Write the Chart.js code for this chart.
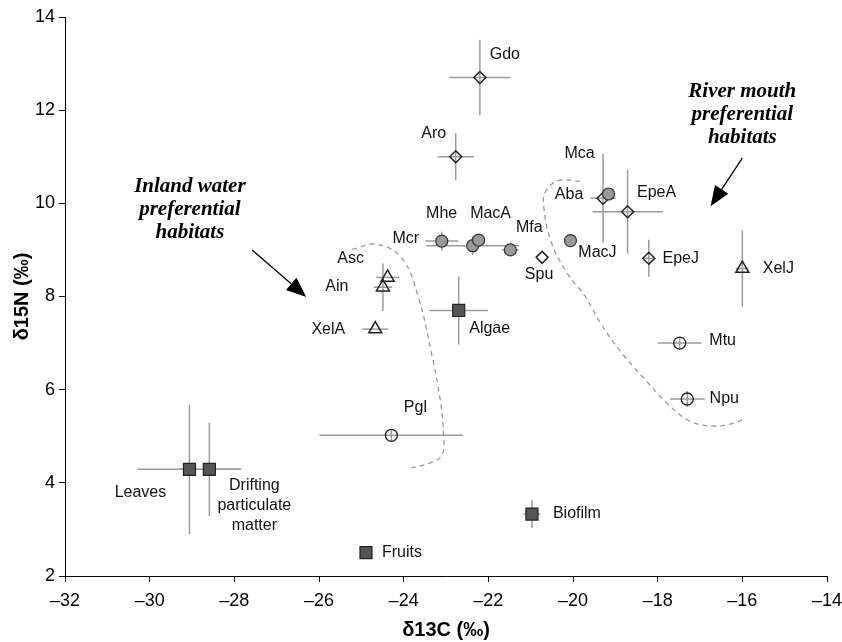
<!DOCTYPE html>
<html><head><meta charset="utf-8">
<script src="https://cdn.jsdelivr.net/npm/chart.js@4.4.1/dist/chart.umd.min.js"></script>
<style>html,body{margin:0;padding:0;background:#fff}#wrap{width:842px;height:642px;position:relative}</style>
</head><body><div id="wrap"><canvas id="c"></canvas></div>
<script>
// ---------- data ----------
const xTicks = [-32, -30, -28, -26, -24, -22, -20, -18, -16, -14];
const yTicks = [2, 4, 6, 8, 10, 12, 14];

// food sources (dark squares)
const sourceNames = ['Leaves', 'Drifting particulate matter', 'Algae', 'Biofilm', 'Fruits'];
const sourceC   = [-29.06, -28.59, -22.70, -20.97, -24.89];
const sourceN   = [4.29, 4.29, 7.70, 3.33, 2.50];
const sourceCsd = [1.23, 0.73, 0.69, 0.20, 0];
const sourceNsd = [1.39, 1.00, 0.73, 0.30, 0];

// grey circles
const greyNames = ['Mcr', 'Mhe', 'MacA', 'Mfa', 'MacJ', 'Mca'];
const greyC   = [-23.10, -22.37, -22.23, -21.48, -20.06, -19.16];
const greyN   = [9.19, 9.09, 9.21, 9.00, 9.20, 10.20];
const greyCsd = [0.39, 1.10, 0.15, 0.20, 0, 0];
const greyNsd = [0.20, 0.20, 0, 0, 0, 0];

// diamonds
const diamondNames = ['Gdo', 'Aro', 'Aba', 'EpeA', 'EpeJ', 'Spu'];
const diamondC   = [-22.20, -22.77, -19.29, -18.71, -18.21, -20.73];
const diamondN   = [12.70, 11.00, 10.11, 9.82, 8.82, 8.84];
const diamondCsd = [0.72, 0.43, 0.30, 0.83, 0.10, 0];
const diamondNsd = [0.81, 0.51, 0.95, 0.90, 0.40, 0];

// triangles
const triNames = ['Asc', 'Ain', 'XelA', 'XelJ'];
const triC   = [-24.38, -24.49, -24.67, -16.00];
const triN   = [8.41, 8.20, 7.30, 8.60];
const triCsd = [0.27, 0.22, 0.31, 0.15];
const triNsd = [0, 0.51, 0, 0.82];

// open circles
const openNames = ['Pgl', 'Mtu', 'Npu'];
const openC   = [-24.29, -17.48, -17.30];
const openN   = [5.02, 7.00, 5.80];
const openCsd = [1.70, 0.51, 0.41];
const openNsd = [0.12, 0.12, 0.17];

// dashed habitat outlines
const inlandCurveC = [-25.22, -24.63, -24.04, -23.65, -23.37, -23.13, -23.06, -23.09, -23.37, -23.92];
const inlandCurveN = [9.01, 9.12, 8.82, 7.97, 6.90, 5.74, 5.03, 4.60, 4.43, 4.30];
const riverCurveC = [-19.83, -20.34, -20.65, -20.69, -20.53, -20.14, -19.71, -19.35, -18.88, -18.33, -17.78, -17.23, -16.67, -16.20, -15.92];
const riverCurveN = [10.47, 10.49, 10.25, 9.93, 9.21, 8.50, 8.00, 7.43, 6.82, 6.25, 5.71, 5.32, 5.22, 5.28, 5.39];

// annotation texts
const inlandText = ['Inland water', 'preferential', 'habitats'];
const riverText = ['River mouth', 'preferential', 'habitats'];

// ---------- layout (pixel offsets / annotation anchors) ----------
const labelOffsets = {
  'Leaves': [-49, 23], 'Drifting particulate matter': [45, 16], 'Algae': [31, 18], 'Biofilm': [45, 0], 'Fruits': [36, 0],
  'Mcr': [-36, -2], 'Mhe': [-31, -32], 'MacA': [12, -27], 'Mfa': [19, -22], 'MacJ': [27, 12], 'Mca': [-29, -40],
  'Gdo': [25, -23], 'Aro': [-22, -23], 'Aba': [-34, -4], 'EpeA': [29, -19], 'EpeJ': [32, 0], 'Spu': [-3, 17],
  'Asc': [-37, -19], 'Ain': [-46, -1], 'XelA': [-47, 0], 'XelJ': [36, 0],
  'Pgl': [24, -28], 'Mtu': [43, -2], 'Npu': [37, 0]
};
const multiLine = {'Drifting particulate matter': ['Drifting', 'particulate', 'matter']};
const textAnchors = {inland: {c: -29.05, n: [10.35, 9.86, 9.37]}, river: {c: -16.0, n: [12.39, 11.9, 11.41]}};
const arrowAnchors = [
  {from: [-27.58, 9.0], to: [-26.30, 7.99]},
  {from: [-16.0, 10.97], to: [-16.75, 9.94]}
];

function pts(cs, ns) { return cs.map((c, i) => ({x: c, y: ns[i]})); }

const groups = [
  {names: sourceNames, c: sourceC, n: sourceN, cs: sourceCsd, ns: sourceNsd},
  {names: greyNames, c: greyC, n: greyN, cs: greyCsd, ns: greyNsd},
  {names: diamondNames, c: diamondC, n: diamondN, cs: diamondCsd, ns: diamondNsd},
  {names: triNames, c: triC, n: triN, cs: triCsd, ns: triNsd},
  {names: openNames, c: openC, n: openN, cs: openCsd, ns: openNsd}
];

const errorBars = {
  id: 'errorBars',
  beforeDatasetsDraw(chart) {
    const {ctx, scales: {x, y}} = chart;
    ctx.save();
    ctx.strokeStyle = '#9a9a9a';
    ctx.lineWidth = 1.5;
    groups.forEach(g => {
      g.c.forEach((c, i) => {
        const px = x.getPixelForValue(c), py = y.getPixelForValue(g.n[i]);
        if (g.cs[i] > 0) {
          ctx.beginPath();
          ctx.moveTo(x.getPixelForValue(c - g.cs[i]), py);
          ctx.lineTo(x.getPixelForValue(c + g.cs[i]), py);
          ctx.stroke();
        }
        if (g.ns[i] > 0) {
          ctx.beginPath();
          ctx.moveTo(px, y.getPixelForValue(g.n[i] - g.ns[i]));
          ctx.lineTo(px, y.getPixelForValue(g.n[i] + g.ns[i]));
          ctx.stroke();
        }
      });
    });
    ctx.restore();
  }
};

const labelsPlugin = {
  id: 'labelsPlugin',
  afterDatasetsDraw(chart) {
    const {ctx, scales: {x, y}} = chart;
    ctx.save();
    ctx.fillStyle = '#111';
    ctx.textAlign = 'center';
    ctx.textBaseline = 'middle';
    ctx.font = '16px "Liberation Sans", Arial, sans-serif';
    groups.forEach(g => {
      g.names.forEach((nm, i) => {
        const off = labelOffsets[nm] || [0, 0];
        const px = x.getPixelForValue(g.c[i]) + off[0];
        const py = y.getPixelForValue(g.n[i]) + off[1];
        const lines = multiLine[nm] || [nm];
        lines.forEach((ln, k) => ctx.fillText(ln, px, py + k * 20));
      });
    });
    // italic annotations
    ctx.font = 'italic bold 21px "Liberation Serif", "Times New Roman", serif';
    ctx.fillStyle = '#000';
    [[textAnchors.inland, inlandText], [textAnchors.river, riverText]].forEach(([a, t]) => {
      t.forEach((ln, k) => ctx.fillText(ln, x.getPixelForValue(a.c), y.getPixelForValue(a.n[k])));
    });
    // arrows
    ctx.strokeStyle = '#000';
    ctx.fillStyle = '#000';
    ctx.lineWidth = 1.3;
    arrowAnchors.forEach(a => {
      const x0 = x.getPixelForValue(a.from[0]), y0 = y.getPixelForValue(a.from[1]);
      const x1 = x.getPixelForValue(a.to[0]), y1 = y.getPixelForValue(a.to[1]);
      const ang = Math.atan2(y1 - y0, x1 - x0);
      const L = 20, W = 8;
      const bx = x1 - L * Math.cos(ang), by = y1 - L * Math.sin(ang);
      ctx.beginPath(); ctx.moveTo(x0, y0); ctx.lineTo(bx, by); ctx.stroke();
      ctx.beginPath();
      ctx.moveTo(x1, y1);
      ctx.lineTo(bx + W * Math.sin(ang), by - W * Math.cos(ang));
      ctx.lineTo(bx - W * Math.sin(ang), by + W * Math.cos(ang));
      ctx.closePath(); ctx.fill();
    });
    ctx.restore();
  }
};

const curveStyle = {showLine: true, borderColor: '#9a9a9a', borderWidth: 1.3, borderDash: [5, 4], pointRadius: 0, tension: 0.4, fill: false, order: 10};

new Chart(document.getElementById('c'), {
  type: 'scatter',
  data: {
    datasets: [
      Object.assign({label: 'inland', data: pts(inlandCurveC, inlandCurveN)}, curveStyle),
      Object.assign({label: 'river', data: pts(riverCurveC, riverCurveN)}, curveStyle),
      {label: 'sources', data: pts(sourceC, sourceN), pointStyle: 'rect', pointRadius: 8.5, backgroundColor: '#555555', borderColor: '#222', borderWidth: 1.2},
      {label: 'grey', data: pts(greyC, greyN), pointStyle: 'circle', pointRadius: 6, backgroundColor: '#9a9a9a', borderColor: '#333', borderWidth: 1.2},
      {label: 'diamond', data: pts(diamondC, diamondN), pointStyle: 'rectRot', pointRadius: 6, backgroundColor: 'rgba(255,255,255,0)', borderColor: '#222', borderWidth: 1.5},
      {label: 'tri', data: pts(triC, triN), pointStyle: 'triangle', pointRadius: 7.5, backgroundColor: 'rgba(255,255,255,0)', borderColor: '#222', borderWidth: 1.5},
      {label: 'open', data: pts(openC, openN), pointStyle: 'circle', pointRadius: 6, backgroundColor: 'rgba(255,255,255,0)', borderColor: '#222', borderWidth: 1.3}
    ]
  },
  options: {
    responsive: true,
    maintainAspectRatio: false,
    animation: false,
    events: [],
    layout: {padding: {top: 17, right: 0, left: 0, bottom: 0}},
    plugins: {legend: {display: false}, tooltip: {enabled: false}},
    scales: {
      x: {
        type: 'linear', min: -32, max: -14,
        afterBuildTicks: s => { s.ticks = xTicks.map(v => ({value: v})); },
        afterFit: s => { s.height = 66; s.paddingRight = 15; },
        grid: {display: true, drawOnChartArea: false, drawTicks: true, tickLength: 6, color: '#000', lineWidth: 1},
        border: {display: true, color: '#000', width: 1},
        ticks: {color: '#000', padding: 8, font: {family: '"Liberation Sans", Arial, sans-serif', size: 18}, callback: v => v < 0 ? '\u2013' + Math.abs(v) : String(v), maxRotation: 0},
        title: {display: true, text: 'δ13C (‰)', color: '#000', padding: {top: 0, bottom: 0}, font: {family: '"Liberation Sans", Arial, sans-serif', size: 20, weight: 'bold'}}
      },
      y: {
        type: 'linear', min: 2, max: 14,
        afterBuildTicks: s => { s.ticks = yTicks.map(v => ({value: v})); },
        afterFit: s => { s.width = 65; },
        grid: {display: true, drawOnChartArea: false, drawTicks: true, tickLength: 6, color: '#000', lineWidth: 1},
        border: {display: true, color: '#000', width: 1},
        ticks: {color: '#000', padding: 4, font: {family: '"Liberation Sans", Arial, sans-serif', size: 18}},
        title: {display: true, text: 'δ15N (‰)', color: '#000', padding: {top: 10, bottom: 0}, font: {family: '"Liberation Sans", Arial, sans-serif', size: 20, weight: 'bold'}}
      }
    }
  },
  plugins: [errorBars, labelsPlugin]
});
</script></body></html>
